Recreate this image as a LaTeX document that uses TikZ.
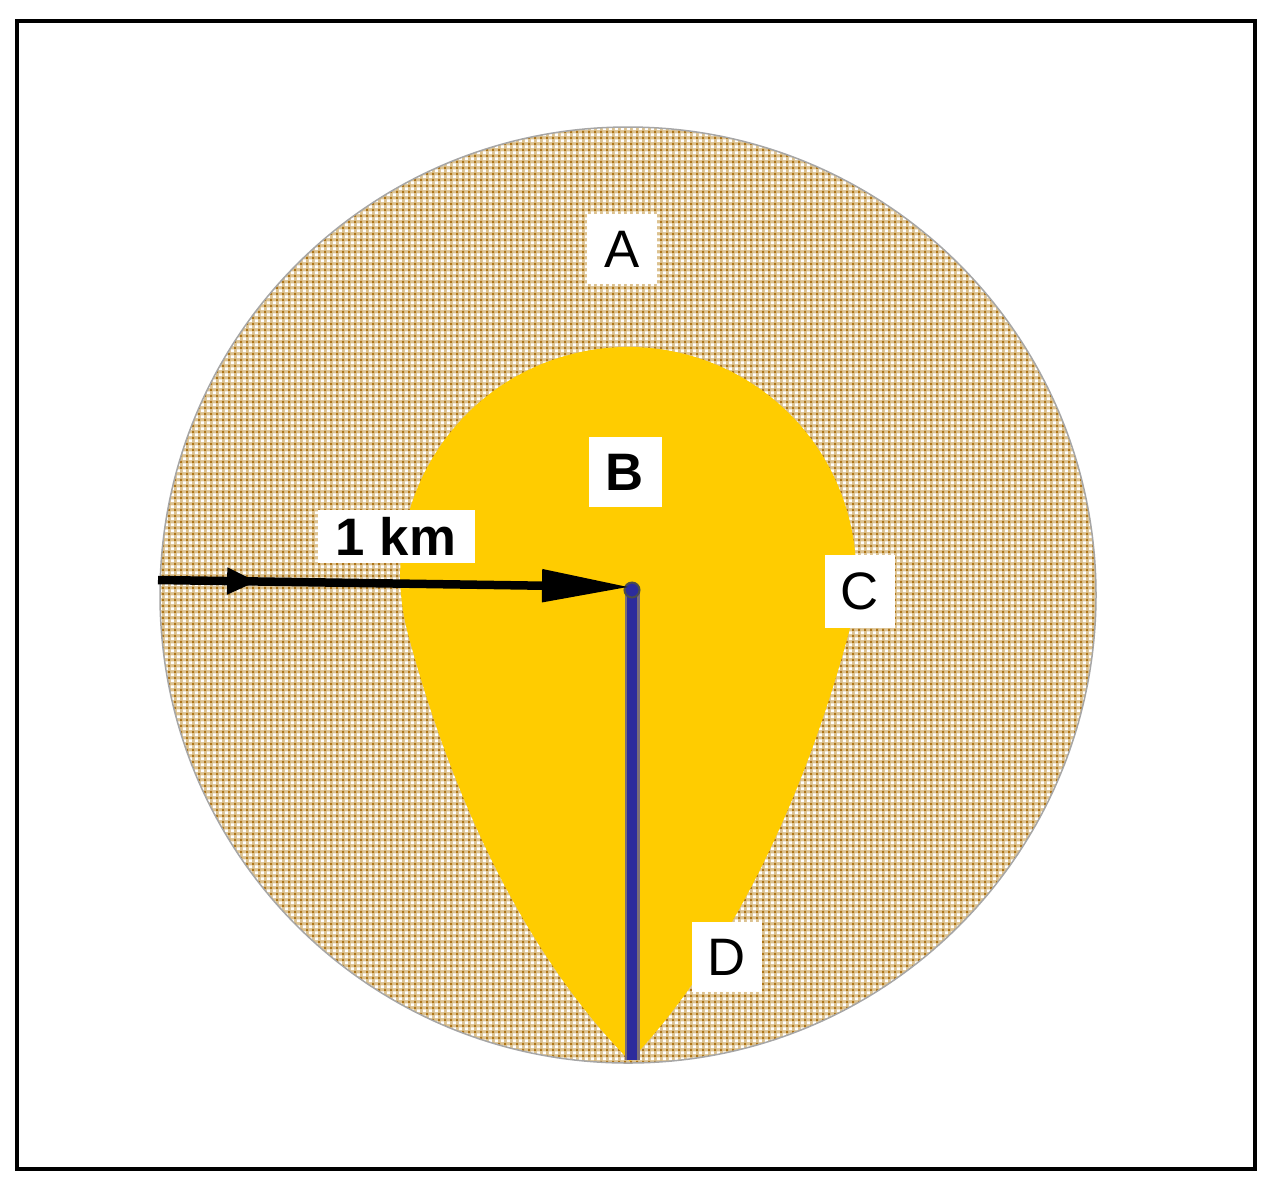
\documentclass[tikz,border=0pt]{standalone}
\usepackage{fontspec}
\setmainfont{Liberation Sans}
\usetikzlibrary{arrows.meta,decorations.markings,patterns.meta}
\definecolor{tanbase}{HTML}{DCC290}
\definecolor{brownA}{HTML}{AE7418}
\definecolor{gold}{HTML}{FFCC00}
\definecolor{navy}{HTML}{2C2C9C}
\definecolor{navyedge}{HTML}{7A6E78}
\pgfdeclarepattern{
  name=tanchecker, type=colored,
  bottom left={\pgfpoint{0mm}{0mm}}, top right={\pgfpoint{0.58mm}{0.58mm}},
  tile size={\pgfpoint{0.58mm}{0.58mm}},
  code={
    \pgfsetfillcolor{brownA}
    \pgfpathrectangle{\pgfpointorigin}{\pgfpoint{0.22mm}{0.22mm}}
    \pgfusepath{fill}
    \pgfsetfillcolor{white}
    \pgfpathrectangle{\pgfpoint{0.29mm}{0.29mm}}{\pgfpoint{0.29mm}{0.29mm}}
    \pgfusepath{fill}
  }
}
\tikzset{
  lbl/.style={fill=white, inner sep=0pt, minimum width=7mm, minimum height=7mm,
    font=\fontsize{15}{18}\selectfont, text=black},
  lblbold/.style={lbl, font=\fontsize{15}{18}\selectfont\bfseries},
  arrowline/.style={line width=0.85mm, black},
}
\begin{document}
\begin{tikzpicture}[x=0.1mm,y=-0.1mm]
\useasboundingbox (0,0) rectangle (1280,1190);
% frame
\draw[line width=0.45mm] (17,21) rectangle (1255,1169);
% big hatched disk
\fill[tanbase] (628,595) circle[radius=468];
\fill[pattern=tanchecker] (628,595) circle[radius=468];
\draw[gray!70, line width=0.15mm] (628,595) circle[radius=468];
% yellow teardrop
\coordinate (tip) at (630,1061);
\fill[gold] (tip) .. controls (540,970) and (460,827) .. (408,634)
  arc[start angle=165, end angle=375, radius=228]
  .. controls (796,827) and (716,970) .. (tip) -- cycle;
% centre, rim and bottom points
\coordinate (ctr) at (632,590);
\coordinate (rim) at (158,580);
\coordinate (tipend) at (630,587);
\coordinate (bottom) at (632,1060);
% blue radius line
\draw[navyedge, line width=1.5mm] (ctr) -- (bottom);
\draw[navy, line width=1.0mm] (ctr) -- (bottom);
\node[circle, fill=navy, draw=black!70, line width=0.2mm, minimum size=1.5mm, inner sep=0pt] (dot) at (ctr) {};
% black arrow
\draw[arrowline, -{Triangle[length=8.8mm,width=3.1mm]},
  postaction={decorate},
  decoration={markings, mark=at position 0.21 with {\arrow{Triangle[length=3.0mm,width=2.5mm]}}}]
  (rim) -- (tipend);
% labels
\node[lbl] (A) at (622,249) {A};
\node[lblbold, minimum width=7.3mm] (B) at (625,472) {B};
\node[lbl, minimum height=7.3mm] (C) at (860,591) {C};
\node[lbl] (D) at (727,957) {D};
\node[lblbold, minimum width=15.7mm, minimum height=5.3mm] (km) at (396,536) {1 km};
\end{tikzpicture}
\end{document}
